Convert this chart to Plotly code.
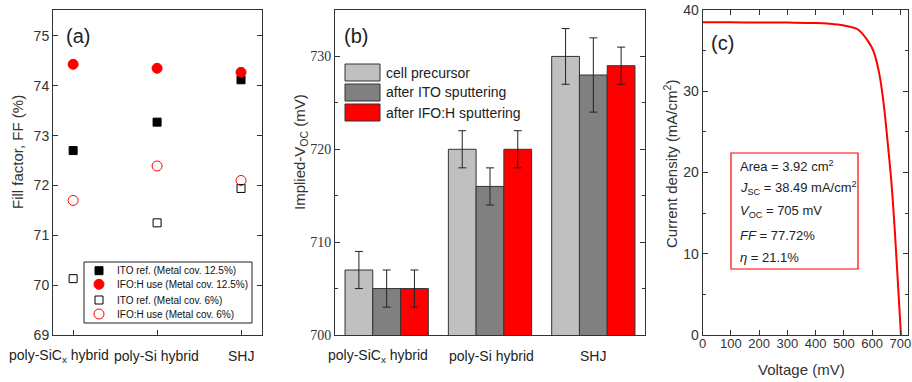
import plotly.graph_objects as go

W, H = 912, 382

# ---------------- data ----------------
categories = ["poly-SiC<sub>x</sub> hybrid", "poly-Si hybrid", "SHJ"]

# panel (a) fill factor
ff_ito_125 = [72.70, 73.27, 74.12]
ff_ifo_125 = [74.43, 74.35, 74.27]
ff_ito_6 = [70.13, 71.25, 71.94]
ff_ifo_6 = [71.70, 72.39, 72.10]
legend_a = ["ITO ref. (Metal cov. 12.5%)", "IFO:H use (Metal cov. 12.5%)",
            "ITO ref. (Metal cov. 6%)", "IFO:H use (Metal cov. 6%)"]

# panel (b) implied Voc
bar_names = ["cell precursor", "after ITO sputtering", "after IFO:H sputtering"]
voc_precursor = [707, 720, 730]
voc_ito = [705, 716, 728]
voc_ifo = [705, 720, 729]
err_precursor = [2, 2, 3]
err_ito = [2, 2, 4]
err_ifo = [2, 2, 2]

# panel (c) J-V curve
voltage = [0, 100, 200, 300, 400, 450, 500, 525, 550, 585, 605, 625, 640, 657, 668, 680, 691, 702]
current = [38.49, 38.48, 38.47, 38.45, 38.40, 38.30, 38.10, 37.90, 37.60, 36.20, 34.90, 32.20,
           28.70, 23.00, 18.90, 13.00, 6.60, 0.0]
cell_params = ["Area = 3.92 cm<sup>2</sup>",
               "<i>J</i><sub>SC</sub> = 38.49 mA/cm<sup>2</sup>",
               "<i>V</i><sub>OC</sub> = 705 mV",
               "<i>FF</i> = 77.72%",
               "<i>η</i> = 21.1%"]

SANS = "Liberation Sans"
SERIF = "Liberation Serif"
AX = "#333333"
RED = "#ff0000"
BAR_COLORS = ["#c0c0c0", "#808080", RED]


def px(x):
    return x / W


def py(y):
    return 1 - y / H


fig = go.Figure()

# ---- panel (a)
styles_a = [
    dict(symbol="square", color="black", size=8, line=dict(color="black", width=1)),
    dict(symbol="circle", color=RED, size=10, line=dict(color=RED, width=1)),
    dict(symbol="square-open", color="black", size=8, line=dict(color="black", width=1)),
    dict(symbol="circle-open", color=RED, size=10, line=dict(color=RED, width=1)),
]
for name, vals, st in zip(legend_a, [ff_ito_125, ff_ifo_125, ff_ito_6, ff_ifo_6], styles_a):
    fig.add_trace(go.Scatter(x=categories, y=vals, mode="markers", name=name,
                             marker=st, xaxis="x", yaxis="y", showlegend=False))

# ---- panel (b)
for name, vals, errs, col in zip(bar_names, [voc_precursor, voc_ito, voc_ifo],
                                 [err_precursor, err_ito, err_ifo], BAR_COLORS):
    fig.add_trace(go.Bar(x=categories, y=vals, name=name, xaxis="x2", yaxis="y2",
                         marker=dict(color=col, line=dict(color=AX, width=1)),
                         error_y=dict(type="data", array=errs, color="#222222",
                                      thickness=1, width=4),
                         showlegend=False))

# ---- panel (c)
fig.add_trace(go.Scatter(x=voltage, y=current, mode="lines", line=dict(color=RED, width=2, shape="spline"),
                         xaxis="x3", yaxis="y3", showlegend=False))

ydom = [py(335), py(10)]
axis_common = dict(showline=True, linecolor=AX, linewidth=1, ticks="inside", tickcolor=AX,
                   ticklen=5, showgrid=False, zeroline=False, automargin=False)

fig.update_layout(
    width=W, height=H, margin=dict(l=0, r=0, t=0, b=0, pad=0, autoexpand=False),
    paper_bgcolor="white", plot_bgcolor="white",
    font=dict(family=SANS, size=14, color="#222222"),
    barmode="group", bargap=0.194, bargroupgap=0,
    xaxis=dict(domain=[px(53), px(262)], anchor="y", type="category",
               range=[-0.24, 2.25], mirror=True, showticklabels=False, **axis_common),
    yaxis=dict(domain=ydom, anchor="x", range=[69, 75.52], dtick=1, mirror="ticks",
               tickfont=dict(size=14, color="#333333"), **axis_common),
    xaxis2=dict(domain=[px(335), px(645)], anchor="y2", type="category",
                range=[-0.5, 2.5], showline=True, linecolor=AX, linewidth=1, mirror=True,
                ticks="", showgrid=False, zeroline=False, showticklabels=False, automargin=False),
    yaxis2=dict(domain=ydom, anchor="x2", range=[700, 735], dtick=10, mirror="ticks",
                minor=dict(dtick=5, ticks="inside", ticklen=3, tickcolor=AX),
                tickfont=dict(family=SERIF, size=14, color="#333333"), **axis_common),
    xaxis3=dict(domain=[px(702.7), px(908)], anchor="y3", range=[0, 727], dtick=100,
                mirror="ticks", tickfont=dict(size=13, color="#333333"), ticklabelstandoff=-4,
                **axis_common),
    yaxis3=dict(domain=ydom, anchor="x3", range=[0, 40], dtick=10, mirror="ticks",
                minor=dict(dtick=5, ticks="inside", ticklen=3, tickcolor=AX),
                tickfont=dict(size=14, color="#333333"), **axis_common),
)

ann = []
shapes = []


def label(x, y, text, size, xanchor="center", color="#222222", angle=0):
    ann.append(dict(x=px(x), y=py(y), text=text, showarrow=False, xanchor=xanchor, yanchor="middle",
                    xref="paper", yref="paper", textangle=angle, font=dict(size=size, color=color)))


# category labels (a) and (b)
shift_a = [-14, -1, 0]
shift_b = [-9, 1, 0]
for cat, sa, sb in zip(categories, shift_a, shift_b):
    ann.append(dict(x=cat, xref="x", y=py(356), yref="paper", text=cat, showarrow=False,
                    xanchor="center", yanchor="middle", xshift=sa, font=dict(size=14, color="#222222")))
    ann.append(dict(x=cat, xref="x2", y=py(356), yref="paper", text=cat, showarrow=False,
                    xanchor="center", yanchor="middle", xshift=sb, font=dict(size=14, color="#222222")))

# panel labels
label(64, 36, "(a)", 20, xanchor="left")
label(342, 36, "(b)", 20, xanchor="left")
label(709, 43, "(c)", 20, xanchor="left")

# axis titles
label(17, 152, "Fill factor, FF (%)", 15, color="#333333", angle=-90)
label(300, 152, "Implied-V<sub>OC</sub> (mV)", 15, color="#333333", angle=-90)
label(670, 164, "Current density (mA/cm<sup>2</sup>)", 15, color="#333333", angle=-90)
label(801, 369, "Voltage (mV)", 15, color="#333333")

# legend (a)
shapes.append(dict(type="rect", xref="paper", yref="paper", x0=px(84), x1=px(252), y0=py(323), y1=py(262),
                   line=dict(color="#222222", width=1), fillcolor="white"))
rows_a = [270.7, 284.3, 300, 314]
for i, (name, yy) in enumerate(zip(legend_a, rows_a)):
    cx = 99
    if i == 0:
        shapes.append(dict(type="rect", xref="paper", yref="paper", x0=px(cx - 4), x1=px(cx + 4),
                           y0=py(yy + 4), y1=py(yy - 4), fillcolor="black", line=dict(color="black", width=1)))
    elif i == 1:
        shapes.append(dict(type="circle", xref="paper", yref="paper", x0=px(cx - 5), x1=px(cx + 5),
                           y0=py(yy + 5), y1=py(yy - 5), fillcolor=RED, line=dict(color=RED, width=1)))
    elif i == 2:
        shapes.append(dict(type="rect", xref="paper", yref="paper", x0=px(cx - 4), x1=px(cx + 4),
                           y0=py(yy + 4), y1=py(yy - 4), fillcolor="white", line=dict(color="black", width=1)))
    else:
        shapes.append(dict(type="circle", xref="paper", yref="paper", x0=px(cx - 5), x1=px(cx + 5),
                           y0=py(yy + 5), y1=py(yy - 5), fillcolor="white", line=dict(color=RED, width=1)))
    label(115, yy, name, 10, xanchor="left", color="#111111")

# legend (b)
rows_b = [72.5, 92.5, 112.5]
for name, col, yy in zip(bar_names, BAR_COLORS, rows_b):
    shapes.append(dict(type="rect", xref="paper", yref="paper", x0=px(345), x1=px(380),
                       y0=py(yy + 8.5), y1=py(yy - 8.5), fillcolor=col, line=dict(color=AX, width=1)))
    label(384, yy, name, 14, xanchor="left")

# parameter box (c)
shapes.append(dict(type="rect", xref="paper", yref="paper", x0=px(731), x1=px(858), y0=py(269), y1=py(153),
                   line=dict(color=RED, width=1.2), fillcolor="rgba(0,0,0,0)"))
rows_c = [166, 188, 211, 235, 257]
for txt, yy in zip(cell_params, rows_c):
    label(738, yy, txt, 13, xanchor="left")

fig.update_layout(annotations=ann, shapes=shapes)
fig.write_html("out.html", config={"displayModeBar": False},
               post_script="document.body.style.margin='0';document.body.style.overflow='hidden';")
